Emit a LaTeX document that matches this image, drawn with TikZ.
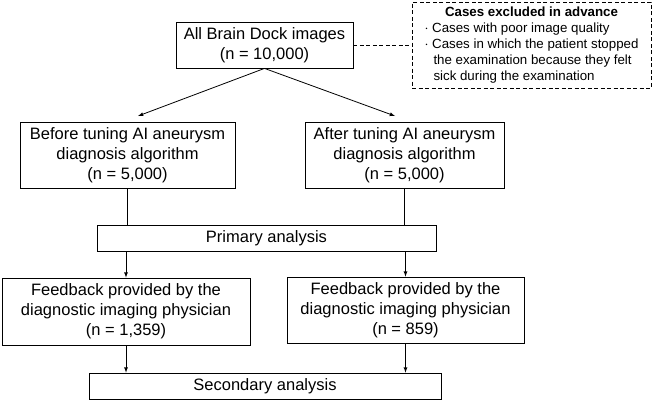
\documentclass[tikz,border=0pt]{standalone}
\usepackage{fontspec}
\setmainfont{Liberation Sans}
\usepackage{tikz}
\usetikzlibrary{arrows,calc,positioning}

\tikzset{
  box/.style={draw,line width=0.8pt,inner sep=0pt,align=center,font=\fontsize{16.5}{20}\selectfont},
  arr/.style={-latex,line width=0.8pt},
  link/.style={line width=0.8pt},
  dashes/.style={dash pattern=on 4pt off 2.5pt}
}

\begin{document}
\begin{tikzpicture}[x=1pt,y=-1pt]
        \useasboundingbox (0,0) rectangle (652,402);
        \node[box,minimum width=177pt,minimum height=46pt] (all)    at (264.5,45)  {All Brain Dock images\\(n = 10,000)};
        \node[draw,dashes,line width=0.8pt,inner sep=0pt,minimum width=239pt,minimum height=86pt,font=\fontsize{13.3}{16.2}\selectfont,align=left] (excluded) at (531.5,45)
            {\makebox[214pt][c]{\textbf{Cases excluded in advance}}\\
             $\cdot$ Cases with poor image quality\\
             $\cdot$ Cases in which the patient stopped\\
             \hspace{9pt}the examination because they felt\\
             \hspace{9pt}sick during the examination};
        \node[box,minimum width=215pt,minimum height=66pt] (before)    at (127.5,155) {Before tuning AI aneurysm\\diagnosis algorithm\\(n = 5,000)};
        \node[box,minimum width=199pt,minimum height=66pt] (after)     at (404.5,155) {After tuning AI aneurysm\\diagnosis algorithm\\(n = 5,000)};
        \node[box,minimum width=339pt,minimum height=26pt] (primary)   at (266.5,238) {Primary analysis};
        \node[box,minimum width=248pt,minimum height=67pt] (feedbackA) at (126,311.5)  {Feedback provided by the\\diagnostic imaging physician\\(n = 1,359)};
        \node[box,minimum width=237pt,minimum height=66pt] (feedbackB) at (405.5,310) {Feedback provided by the\\diagnostic imaging physician\\(n = 859)};
        \node[box,minimum width=352pt,minimum height=26pt] (secondary) at (265,386)   {Secondary analysis};
        \coordinate (beforein) at (138,116);
        \coordinate (afterin)  at (395,116);
        \draw[link,dashes] (all.east)  -- (excluded.west);
        \draw[arr] (all.south) -- (beforein);
        \draw[arr] (all.south) -- (afterin);
        \draw[link] (before.south) -- (before.south |- primary.north);
        \draw[link] (after.south)  -- (after.south |- primary.north);
        \draw[arr] (feedbackA.north |- primary.south) -- (feedbackA.north);
        \draw[arr] (feedbackB.north |- primary.south) -- (feedbackB.north);
        \draw[arr] (feedbackA.south) -- (feedbackA.south |- secondary.north);
        \draw[arr] (feedbackB.south) -- (feedbackB.south |- secondary.north);
    \end{tikzpicture}
\end{document}
